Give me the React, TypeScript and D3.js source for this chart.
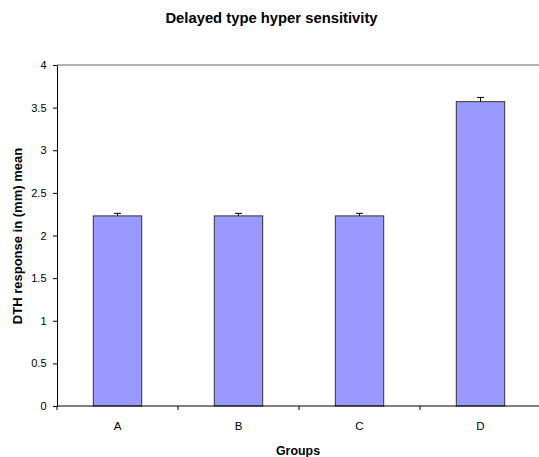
import React, { useEffect, useRef } from 'react';
import * as d3 from 'd3';

const groups = ['A', 'B', 'C', 'D'];
const means = [2.23, 2.23, 2.23, 3.57];
const errors = [0.03, 0.03, 0.03, 0.05];
const yTicks = [0, 0.5, 1, 1.5, 2, 2.5, 3, 3.5, 4];

const W = 539, H = 457;
const left = 57, right = 541, top = 65, bottom = 406;

export default function App() {
  const ref = useRef<SVGSVGElement>(null);

  useEffect(() => {
    document.body.style.margin = '0';
    const svg = d3.select(ref.current);
    svg.selectAll('*').remove();

    const x = d3.scaleBand().domain(groups).range([left, right]).paddingInner(0.6).paddingOuter(0.3);
    const xCat = d3.scaleBand().domain(groups).range([left, right]);
    const y = d3.scaleLinear().domain([0, 4]).range([bottom, top]);
    const font = 'Liberation Sans, Arial, sans-serif';

    // top border
    svg.append('line').attr('x1', left).attr('x2', right).attr('y1', top).attr('y2', top)
      .attr('stroke', '#666').attr('stroke-width', 1);

    const data = groups.map((g, i) => ({ g, m: means[i], e: errors[i] }));

    svg.selectAll('rect.bar').data(data).enter().append('rect')
      .attr('class', 'bar')
      .attr('x', d => x(d.g)!)
      .attr('width', x.bandwidth())
      .attr('y', d => y(d.m))
      .attr('height', d => bottom - y(d.m))
      .attr('fill', '#9999ff')
      .attr('stroke', '#333')
      .attr('stroke-width', 1);

    // error bars (upper only)
    const eb = svg.selectAll('g.err').data(data).enter().append('g').attr('class', 'err');
    eb.append('line')
      .attr('x1', d => x(d.g)! + x.bandwidth() / 2).attr('x2', d => x(d.g)! + x.bandwidth() / 2)
      .attr('y1', d => y(d.m)).attr('y2', d => y(d.m + d.e))
      .attr('stroke', '#000');
    eb.append('line')
      .attr('x1', d => x(d.g)! + x.bandwidth() / 2 - 3.5).attr('x2', d => x(d.g)! + x.bandwidth() / 2 + 3.5)
      .attr('y1', d => y(d.m + d.e)).attr('y2', d => y(d.m + d.e))
      .attr('stroke', '#000');

    // y axis
    const yAxis = svg.append('g').attr('transform', `translate(${left},0)`)
      .call(d3.axisLeft(y).tickValues(yTicks).tickSize(4).tickSizeOuter(0).tickFormat(d => String(d)));
    yAxis.select('.domain').attr('stroke', '#000');
    yAxis.selectAll('text').attr('font-family', font).attr('font-size', 11).attr('fill', '#000').attr('dx', '-3.5');

    // x axis
    const xAxis = svg.append('g').attr('transform', `translate(0,${bottom})`);
    xAxis.append('line').attr('x1', left).attr('x2', right).attr('y1', 0).attr('y2', 0).attr('stroke', '#000');
    xAxis.selectAll('line.tick').data(groups).enter().append('line')
      .attr('class', 'tick')
      .attr('x1', d => xCat(d)!).attr('x2', d => xCat(d)!)
      .attr('y1', 0).attr('y2', 4).attr('stroke', '#000');
    xAxis.selectAll('text').data(groups).enter().append('text')
      .attr('x', d => xCat(d)! + xCat.bandwidth() / 2)
      .attr('y', 24)
      .attr('text-anchor', 'middle')
      .attr('font-family', font).attr('font-size', 11.5)
      .text(d => d);

    svg.append('text').attr('x', 271.5).attr('y', 23).attr('text-anchor', 'middle')
      .attr('font-family', font).attr('font-size', 14.8).attr('font-weight', 'bold')
      .text('Delayed type hyper sensitivity');

    svg.append('text').attr('x', 298).attr('y', 455).attr('text-anchor', 'middle')
      .attr('font-family', font).attr('font-size', 12.4).attr('font-weight', 'bold')
      .text('Groups');

    svg.append('text').attr('transform', 'translate(22,236) rotate(-90)').attr('text-anchor', 'middle')
      .attr('font-family', font).attr('font-size', 13).attr('font-weight', 'bold')
      .text('DTH response in (mm) mean');
  }, []);

  return <svg ref={ref} width={W} height={H} style={{ display: 'block' }} />;
}
